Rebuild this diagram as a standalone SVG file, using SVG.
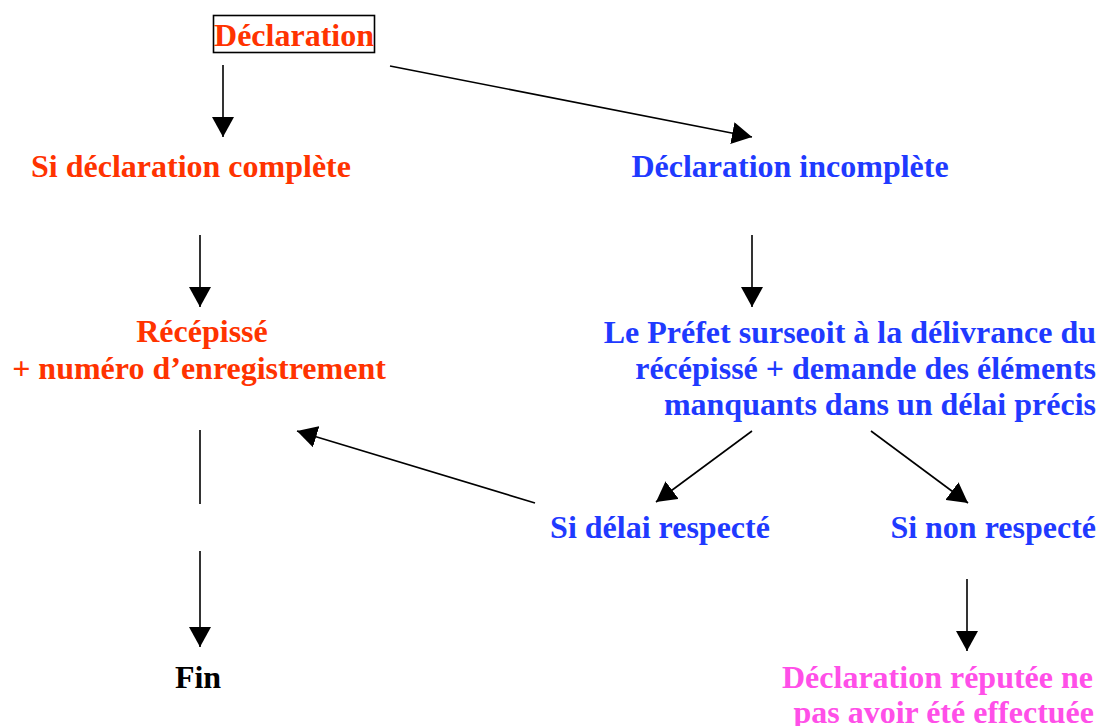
<svg xmlns="http://www.w3.org/2000/svg" width="1101" height="726" viewBox="0 0 1101 726">
<style>
text{font-family:"Liberation Serif","Times New Roman",serif;font-weight:bold;font-size:32px}
.r{fill:#FF3300}
.b{fill:#1F3AFF}
.p{fill:#FF4FE8}
.k{fill:#000}
.c{text-anchor:middle}
.e{text-anchor:end}
.ln{stroke:#000;stroke-width:1.6;fill:none}
</style>
<defs>
<marker id="ah" markerUnits="userSpaceOnUse" markerWidth="22" markerHeight="22" refX="20" refY="11" orient="auto">
<path d="M0,0 L20,11 L0,22 Z" fill="#000"/>
</marker>
</defs>
<rect width="1101" height="726" fill="#fff"/>
<g id="connectors">
<line class="ln" x1="223" y1="65" x2="223" y2="137" marker-end="url(#ah)"/>
<line class="ln" x1="390" y1="66" x2="752" y2="137" marker-end="url(#ah)"/>
<line class="ln" x1="200" y1="235" x2="200" y2="307" marker-end="url(#ah)"/>
<line class="ln" x1="752" y1="235" x2="752" y2="307" marker-end="url(#ah)"/>
<line class="ln" x1="752" y1="431" x2="656" y2="502" marker-end="url(#ah)"/>
<line class="ln" x1="871" y1="431" x2="968" y2="503" marker-end="url(#ah)"/>
<line class="ln" x1="535" y1="503" x2="297" y2="431" marker-end="url(#ah)"/>
<line class="ln" x1="200" y1="430" x2="200" y2="504"/>
<line class="ln" x1="200" y1="551" x2="200" y2="647" marker-end="url(#ah)"/>
<line class="ln" x1="967" y1="579" x2="967" y2="651" marker-end="url(#ah)"/>
</g>
<g id="n-declaration">
<rect x="213.5" y="15.5" width="161" height="37" fill="none" stroke="#000" stroke-width="1.6"/>
<text class="r c" x="294" y="46">Déclaration</text>
</g>
<g id="n-complete"><text class="r c" x="191" y="177">Si déclaration complète</text></g>
<g id="n-incomplete"><text class="b c" x="790" y="177">Déclaration incomplète</text></g>
<g id="n-recepisse">
<text class="r c" x="202" y="342">Récépissé</text>
<text class="r c" x="199" y="379">+ numéro d’enregistrement</text>
</g>
<g id="n-prefet">
<text class="b e" x="1096" y="343">Le Préfet surseoit à la délivrance du</text>
<text class="b e" x="1096" y="379">récépissé + demande des éléments</text>
<text class="b e" x="1096" y="415">manquants dans un délai précis</text>
</g>
<g id="n-respecte"><text class="b c" x="660" y="538">Si délai respecté</text></g>
<g id="n-nonrespecte"><text class="b e" x="1096" y="538">Si non respecté</text></g>
<g id="n-fin"><text class="k c" x="198" y="688">Fin</text></g>
<g id="n-reputee">
<text class="p e" x="1093" y="688">Déclaration réputée ne</text>
<text class="p e" x="1094" y="723">pas avoir été effectuée</text>
</g>
</svg>
